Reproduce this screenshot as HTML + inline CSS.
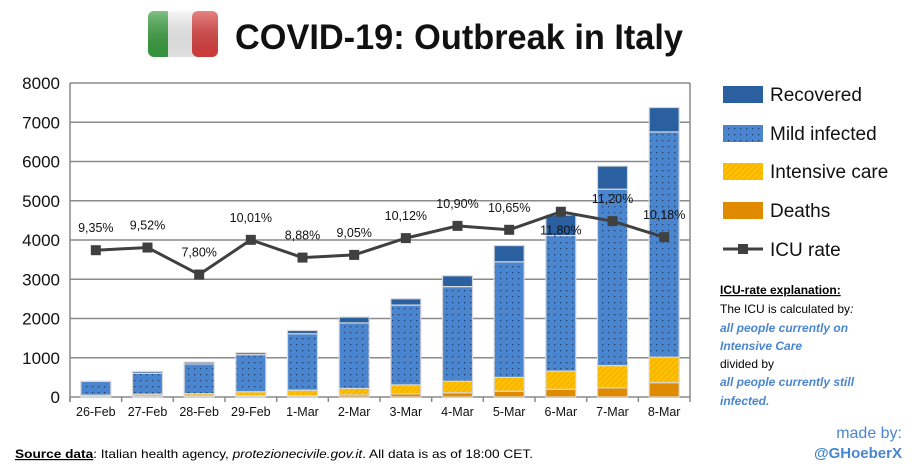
<!DOCTYPE html>
<html><head><meta charset="utf-8"><style>
body{margin:0;background:#fff;width:916px;height:470px;overflow:hidden;font-family:"Liberation Sans",sans-serif}
</style></head><body>
<svg id="c" width="916" height="470" xmlns="http://www.w3.org/2000/svg" font-family="Liberation Sans, sans-serif">
<defs>
<pattern id="dots" width="6" height="6" patternUnits="userSpaceOnUse"><rect width="6" height="6" fill="#4a86d0"/><rect x="2" y="2" width="1.3" height="1.3" fill="#1f3f70"/></pattern>
<pattern id="hatch" width="4" height="4" patternUnits="userSpaceOnUse" patternTransform="rotate(45)"><rect width="4" height="4" fill="#ffc000"/><rect width="1.2" height="4" fill="#f0b000"/></pattern>
<linearGradient id="fg" x1="0" y1="0" x2="0" y2="1"><stop offset="0" stop-color="#fff" stop-opacity=".35"/><stop offset="1" stop-color="#000" stop-opacity=".08"/></linearGradient>
</defs>
<g>
<rect x="148" y="11" width="24" height="46" rx="6" fill="#3aa040"/><rect x="168" y="11" width="26" height="46" fill="#f4f4f4"/><rect x="192" y="11" width="26" height="46" rx="6" fill="#dd4040"/><rect x="148" y="11" width="70" height="46" rx="6" fill="url(#fg)"/>
</g>
<text x="235" y="49" font-size="35" font-weight="bold" fill="#111" textLength="448" lengthAdjust="spacingAndGlyphs">COVID-19: Outbreak in Italy</text>
<g id="grid"></g><g id="bars"></g><g id="line"></g><g id="axes"></g>
<g font-size="19" fill="#111">
<rect x="723" y="86" width="40" height="17" fill="#2a5fa0"/><text x="770" y="101">Recovered</text>
<rect x="723" y="125" width="40" height="17" fill="url(#dots)"/><text x="770" y="140">Mild infected</text>
<rect x="723" y="163" width="40" height="17" fill="url(#hatch)"/><text x="770" y="178">Intensive care</text>
<rect x="723" y="202" width="40" height="17" fill="#e08a00"/><text x="770" y="217">Deaths</text>
<line x1="723" y1="249" x2="763" y2="249" stroke="#404040" stroke-width="3"/><rect x="738" y="244" width="10" height="10" fill="#404040"/><text x="770" y="256">ICU rate</text>
</g>
<g font-size="12">
<text x="720" y="294" font-weight="bold" text-decoration="underline" fill="#000">ICU-rate explanation:</text>
<text x="720" y="313" fill="#000">The ICU is calculated by<tspan font-style="italic">:</tspan></text>
<text x="720" y="332" fill="#4a86d0" font-weight="bold" font-style="italic">all people currently on</text>
<text x="720" y="350" fill="#4a86d0" font-weight="bold" font-style="italic">Intensive Care</text>
<text x="720" y="368" fill="#000">divided by</text>
<text x="720" y="386" fill="#4a86d0" font-weight="bold" font-style="italic">all people currently still</text>
<text x="720" y="405" fill="#4a86d0" font-weight="bold" font-style="italic">infected.</text>
</g>
<text x="15" y="458" font-size="12" fill="#000" textLength="518" lengthAdjust="spacingAndGlyphs"><tspan font-weight="bold" text-decoration="underline">Source data</tspan>: Italian health agency, <tspan font-style="italic">protezionecivile.gov.it</tspan>.  All data is as of 18:00  CET.</text>
<text x="902" y="438" font-size="16" fill="#4a86d0" text-anchor="end">made by:</text>
<text x="902" y="458" font-size="15" font-weight="bold" fill="#4a86d0" text-anchor="end">@GHoeberX</text>
</svg>
<script>
const categories=["26-Feb","27-Feb","28-Feb","29-Feb","1-Mar","2-Mar","3-Mar","4-Mar","5-Mar","6-Mar","7-Mar","8-Mar"];
const deaths=[12,17,21,29,34,52,79,107,148,197,233,366];
const intensiveCare=[36,56,64,105,140,166,229,295,351,462,567,650];
const mildInfected=[349,532,757,944,1437,1669,2034,2411,2945,3454,4494,5737];
const recovered=[3,45,46,50,83,149,160,276,414,523,589,622];
const icuRate=[9.35,9.52,7.80,10.01,8.88,9.05,10.12,10.90,10.65,11.80,11.20,10.18];
const icuLabels=["9,35%","9,52%","7,80%","10,01%","8,88%","9,05%","10,12%","10,90%","10,65%","11,80%","11,20%","10,18%"];
const yTicks=[0,1000,2000,3000,4000,5000,6000,7000,8000];
const NS="http://www.w3.org/2000/svg";
const x0=70,x1=690,y0=397,y1=83,yMax=8000,rateMax=20;
const bw=(x1-x0)/categories.length;
const X=i=>x0+bw*(i+0.5);
const Y=v=>y0-(v/yMax)*(y0-y1);
const YR=r=>y0-(r/rateMax)*(y0-y1);
function mk(t,a,p){const e=document.createElementNS(NS,t);for(const k in a)e.setAttribute(k,a[k]);p.appendChild(e);return e;}
const grid=document.getElementById('grid'),axes=document.getElementById('axes'),bars=document.getElementById('bars'),line=document.getElementById('line');
yTicks.forEach(v=>{
  const l=mk('line',{x1:x0,x2:x1,y1:Y(v),y2:Y(v),stroke:'#8a8a8a','stroke-width':1.5},grid);
  
  
  const t=mk('text',{x:x0-10,y:Y(v)+6,'font-size':17,'text-anchor':'end',fill:'#111'},axes);
  t.textContent=v;
  
  
});
mk('line',{x1:x0,x2:x0,y1:y1,y2:y0+5,stroke:'#8a8a8a','stroke-width':1.5},axes);
mk('line',{x1:x1,x2:x1,y1:y1,y2:y0+5,stroke:'#8a8a8a','stroke-width':1.5},axes);
categories.forEach((c,i)=>{
  mk('line',{x1:x0+bw*i,x2:x0+bw*i,y1:y0,y2:y0+5,stroke:'#8a8a8a','stroke-width':1.5},axes);
  const t=mk('text',{x:X(i),y:y0+19,'font-size':12.5,'text-anchor':'middle',fill:'#111'},axes);
  t.textContent=c;
  
  
});
const series=[[deaths,'#e08a00','deaths'],[intensiveCare,'url(#hatch)','intensive-care'],[mildInfected,'url(#dots)','mild-infected'],[recovered,'#2a5fa0','recovered']];
categories.forEach((c,i)=>{
  let base=0;
  series.forEach(([arr,fill,nm])=>{
    const v=arr[i];
    const r=mk('rect',{x:X(i)-15,y:Y(base+v),width:30,height:Math.max(0,Y(base)-Y(base+v)),fill:fill,stroke:'#d8d8d8','stroke-width':1.2},bars);
    
    
    base+=v;
  });
});
const pts=icuRate.map((r,i)=>X(i)+','+YR(r)).join(' ');
const pl=mk('polyline',{points:pts,fill:'none',stroke:'#404040','stroke-width':3},line);


const below=[9];
icuRate.forEach((r,i)=>{
  const m=mk('rect',{x:X(i)-5,y:YR(r)-5,width:10,height:10,fill:'#404040'},line);
  
  
  const t=mk('text',{x:X(i),y:below.includes(i)?YR(r)+23:YR(r)-18,'font-size':12.5,'text-anchor':'middle',fill:'#111'},line);
  t.textContent=icuLabels[i];
  
  
});
</script>
</body></html>
